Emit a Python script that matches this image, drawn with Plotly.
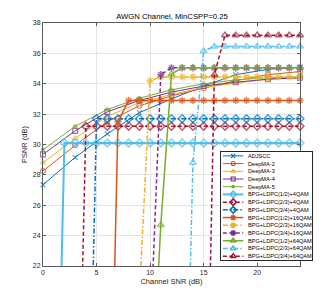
import plotly.graph_objects as go

# ---------------- data ----------------
snr_deep = [0, 3, 6, 9, 12, 15, 18, 21, 24]
adjscc = [27.35, 29.15, 30.7, 32.1, 33.0, 33.85, 34.6, 34.95, 35.1]
deepma2 = [28.25, 29.95, 31.5, 32.55, 33.2, 33.7, 34.2, 34.6, 34.8]
deepma3 = [28.8, 30.4, 31.85, 32.75, 33.3, 33.75, 34.05, 34.3, 34.4]
deepma4 = [29.35, 30.9, 32.15, 32.9, 33.45, 33.85, 34.1, 34.3, 34.4]
deepma5 = [29.65, 31.2, 32.3, 33.05, 33.6, 34.0, 34.25, 34.4, 34.45]

snr_bpg = list(range(25))
bpg_4qam_12 = [0, 0] + [30.1] * 23
bpg_4qam_23 = [0, 0, 0, 0] + [31.2] * 21
bpg_4qam_34 = [0, 0, 0, 0, 0] + [31.7] * 20
bpg_16qam_12 = [0] * 7 + [31.5] + [32.9] * 17
bpg_16qam_23 = [0] * 9 + [20, 34.2] + [34.45] * 14
bpg_16qam_34 = [0] * 10 + [17, 34.6] + [35.05] * 13
bpg_64qam_12 = [0] * 10 + [11, 24.7, 34.65] + [35.05] * 12
bpg_64qam_23 = [0] * 14 + [28.8, 36.15] + [36.45] * 9
bpg_64qam_34 = [0] * 16 + [34.6] + [37.2] * 8

labels = ["ADJSCC", "DeepMA-2", "DeepMA-3", "DeepMA-4", "DeepMA-5",
          "BPG+LDPC(1/2)+4QAM", "BPG+LDPC(2/3)+4QAM", "BPG+LDPC(3/4)+4QAM",
          "BPG+LDPC(1/2)+16QAM", "BPG+LDPC(2/3)+16QAM", "BPG+LDPC(3/4)+16QAM",
          "BPG+LDPC(1/2)+64QAM", "BPG+LDPC(2/3)+64QAM", "BPG+LDPC(3/4)+64QAM"]

# ---------------- styles ----------------
BLUE, ORANGE, YELLOW, PURPLE = "#0072BD", "#D95319", "#EDB120", "#7E2F8E"
GREEN, CYAN, RED = "#77AC30", "#4DBEEE", "#A2142F"
DASH = "4px,2.5px"
DASHDOT = "5px,2px,1.5px,2px"

series = [
    (snr_deep, adjscc, BLUE, "solid", 1.0, "x-thin-open", 5),
    (snr_deep, deepma2, ORANGE, "solid", 1.0, "circle-open", 5),
    (snr_deep, deepma3, YELLOW, "solid", 1.0, "triangle-up-open", 5),
    (snr_deep, deepma4, PURPLE, "solid", 1.0, "square-open", 5),
    (snr_deep, deepma5, GREEN, "solid", 1.0, "asterisk-open", 4),
    (snr_bpg, bpg_4qam_12, CYAN, "solid", 2.0, "diamond-open", 6),
    (snr_bpg, bpg_4qam_23, RED, DASH, 1.5, "diamond-open", 6),
    (snr_bpg, bpg_4qam_34, BLUE, DASHDOT, 1.5, "diamond-open", 6),
    (snr_bpg, bpg_16qam_12, ORANGE, "solid", 1.5, "asterisk-open", 6),
    (snr_bpg, bpg_16qam_23, YELLOW, DASHDOT, 1.5, "asterisk-open", 6),
    (snr_bpg, bpg_16qam_34, PURPLE, DASH, 1.5, "asterisk-open", 6),
    (snr_bpg, bpg_64qam_12, GREEN, "solid", 1.5, "triangle-up-open", 6),
    (snr_bpg, bpg_64qam_23, CYAN, DASHDOT, 1.5, "triangle-up-open", 6),
    (snr_bpg, bpg_64qam_34, RED, DASH, 1.5, "triangle-up-open", 6),
]

YMIN, YMAX = 22, 38
FONT = "Liberation Sans, Arial, sans-serif"
TXT = "#262626"

# layout geometry (page has an 8px body margin, compensated here)
W, H = 332, 299
L, T = 35, 15              # plot-area left / top
PR, PB = 292, 258          # plot-area right / bottom
PAPER_R = 310
R, B = W - PAPER_R, H - PB
PW, PH = PAPER_R - L, PB - T
LEG_X0, LEG_X1, LEG_Y0, LEG_Y1 = 213, 304, 144, 252

fig = go.Figure()
for (xs, ys, col, dash, lw, sym, ms), name in zip(series, labels):
    sizes = [ms if (v >= YMIN) else 0 for v in ys]
    fig.add_trace(go.Scatter(
        x=xs, y=ys, mode="lines+markers", name=name, showlegend=False,
        line=dict(color=col, width=lw, dash=dash),
        marker=dict(symbol=sym, size=sizes, color=col,
                    line=dict(color=col, width=1.5 if lw > 1 else 1.1)),
        cliponaxis=False, xaxis="x", yaxis="y"))

# compact legend drawn in an inset subplot
for i, ((xs, ys, col, dash, lw, sym, ms), name) in enumerate(zip(series, labels)):
    fig.add_trace(go.Scatter(
        x=[0.02, 0.245], y=[i, i], mode="lines", showlegend=False,
        line=dict(color=col, width=lw, dash=dash), xaxis="x2", yaxis="y2",
        hoverinfo="skip"))
    fig.add_trace(go.Scatter(
        x=[0.134], y=[i], mode="markers", showlegend=False,
        marker=dict(symbol=sym, size=ms - 1, color=col,
                    line=dict(color=col, width=1.5 if lw > 1 else 1.1)),
        xaxis="x2", yaxis="y2", hoverinfo="skip"))
    fig.add_annotation(x=0.272, y=i, xref="x2", yref="y2", text=name,
                       showarrow=False, xanchor="left", yanchor="middle",
                       font=dict(size=5.6, color="#000000", family=FONT))

axis_common = dict(showline=True, linecolor="#5a5a5a", linewidth=1, mirror="ticks",
                   ticks="inside", ticklen=3, tickcolor="#5a5a5a",
                   showgrid=True, gridcolor="#e4e4e4", gridwidth=1, zeroline=False,
                   tickfont=dict(size=7, color=TXT, family=FONT))

fig.update_layout(
    width=W, height=H,
    margin=dict(l=L, r=R, t=T, b=B),
    paper_bgcolor="white", plot_bgcolor="white",
    font=dict(family=FONT, color=TXT),
    title=dict(text="AWGN Channel, MinCSPP=0.25", xref="container", x=164 / W,
               xanchor="center", yref="container", y=1 - 8 / H, yanchor="middle",
               font=dict(size=7.7, color="#000000", family=FONT)),
    xaxis=dict(domain=[0, (PR - L) / PW], range=[0, 24], tickvals=[0, 5, 10, 15, 20],
               title=dict(text="Channel SNR (dB)", font=dict(size=7.5, color=TXT), standoff=3),
               anchor="y", **axis_common),
    yaxis=dict(domain=[0, 1], range=[YMIN, YMAX], tickvals=list(range(22, 39, 2)),
               title=dict(text="PSNR (dB)", font=dict(size=7.5, color=TXT), standoff=4),
               anchor="x", **axis_common),
    xaxis2=dict(domain=[(LEG_X0 - L) / PW, (LEG_X1 - L) / PW], range=[0, 1],
                showgrid=False, zeroline=False, showticklabels=False, ticks="",
                showline=True, mirror=True, linecolor="#262626", linewidth=1,
                anchor="y2", fixedrange=True),
    yaxis2=dict(domain=[(PB - LEG_Y1) / PH, (PB - LEG_Y0) / PH], range=[13.5, -0.5],
                showgrid=False, zeroline=False, showticklabels=False, ticks="",
                showline=True, mirror=True, linecolor="#262626", linewidth=1,
                anchor="x2", fixedrange=True),
)

fig.write_html("out.html")
